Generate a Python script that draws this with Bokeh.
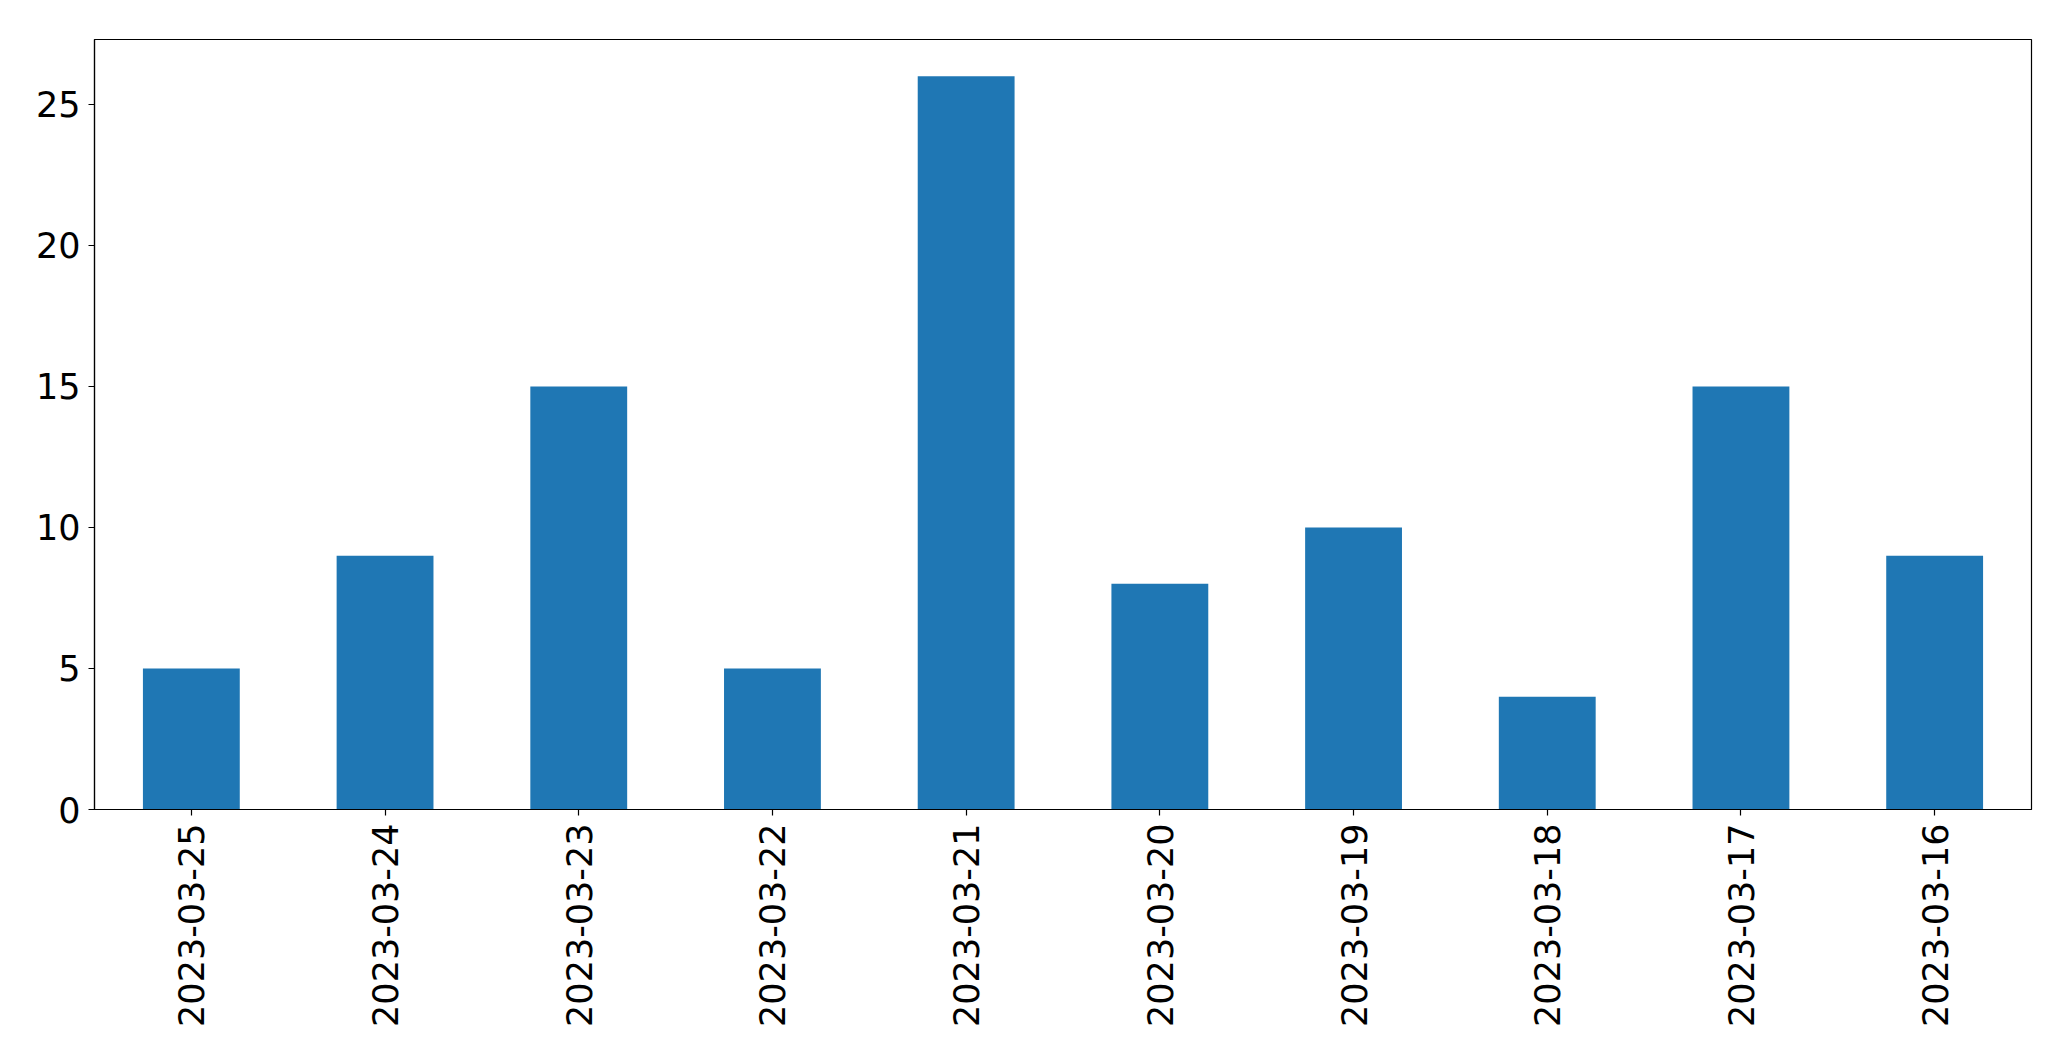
from bokeh.plotting import figure
from bokeh.models import Range1d, FactorRange, FixedTicker, ColumnDataSource
from bokeh.embed import file_html
from bokeh.resources import INLINE
import math

dates = ["2023-03-25", "2023-03-24", "2023-03-23", "2023-03-22", "2023-03-21",
         "2023-03-20", "2023-03-19", "2023-03-18", "2023-03-17", "2023-03-16"]
counts = [5, 9, 15, 5, 26, 8, 10, 4, 15, 9]
y_ticks = [0, 5, 10, 15, 20, 25]

src = ColumnDataSource(data=dict(d=dates, c=counts))

p = figure(width=2055, height=1045, x_range=FactorRange(factors=dates),
           y_range=Range1d(0, max(counts) * 1.05),
           output_backend="svg", toolbar_location=None,
           min_border_left=94, min_border_top=39, min_border_right=24, min_border_bottom=236)

p.vbar(x="d", top="c", width=0.5, source=src, fill_color="#1f77b4", line_color=None)

p.xgrid.visible = False
p.ygrid.visible = False
p.outline_line_color = "black"
p.outline_line_width = 1.2
p.outline_line_alpha = 1

p.yaxis.ticker = FixedTicker(ticks=y_ticks)
p.yaxis.minor_tick_line_color = None

for ax in (p.xaxis[0], p.yaxis[0]):
    ax.major_label_text_font = "DejaVu Sans"
    ax.major_label_text_font_size = "35px"
    ax.major_label_text_font_style = "normal"
    ax.major_label_text_color = "black"
    ax.major_tick_in = 0
    ax.major_tick_out = 6
    ax.major_tick_line_color = "black"
    ax.major_tick_line_width = 1.2
    ax.axis_line_color = "black"
    ax.axis_line_width = 1.2
    ax.major_label_standoff = 8

p.xaxis.major_label_orientation = math.pi / 2
p.xaxis.group_text_font_size = "0px"

open("out.html", "w").write(file_html(p, INLINE))
